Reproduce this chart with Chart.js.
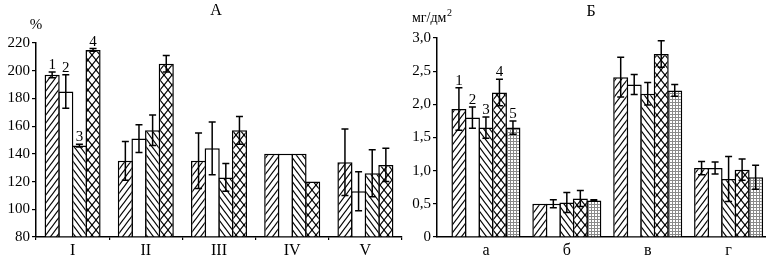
<!DOCTYPE html>
<html><head><meta charset="utf-8">
<script src="https://cdn.jsdelivr.net/npm/chart.js@4/dist/chart.umd.min.js"></script>
<style>
html,body{margin:0;padding:0;background:#fff;}
#wrap{position:relative;width:768px;height:260px;overflow:hidden;background:#fff;}
#cA{position:absolute;left:0;top:0;}
#cB{position:absolute;left:405px;top:0;}
</style></head><body>
<div id="wrap">
<canvas id="cA" width="410" height="260"></canvas>
<canvas id="cB" width="363" height="260"></canvas>
</div>
<script>
// ---- Panel А data (%) ----
const catsA = ['I', 'II', 'III', 'IV', 'V'];
const a1 = [197, 135, 135, 140, 134];
const a2 = [185, 151, 144, 140, 113];
const a3 = [146, 157, 123, 140, 126];
const a4 = [215, 205, 157, 120, 132];
const errA1 = [2, 14, 20, 0, 24];
const errA2 = [12, 10, 19, 0, 14];
const errA3 = [1, 11, 10, 0, 17];
const errA4 = [1, 6, 10, 0, 12];
const ticksA = [80, 100, 120, 140, 160, 180, 200, 220];
const tickLabelsA = ['80', '100', '120', '140', '160', '180', '200', '220'];

// ---- Panel Б data (мг/дм²) ----
const catsB = ['а', 'б', 'в', 'г'];
const b1 = [1.93, 0.50, 2.41, 1.04];
const b2 = [1.80, 0.50, 2.30, 1.04];
const b3 = [1.65, 0.52, 2.16, 0.875];
const b4 = [2.18, 0.58, 2.76, 1.015];
const b5 = [1.65, 0.55, 2.21, 0.90];
const errB1 = [0.32, 0, 0.30, 0.10];
const errB2 = [0.16, 0.06, 0.15, 0.09];
const errB3 = [0.16, 0.15, 0.17, 0.34];
const errB4 = [0.20, 0.12, 0.20, 0.16];
const errB5 = [0.10, 0.01, 0.09, 0.18];
const ticksB = [0, 0.5, 1.0, 1.5, 2.0, 2.5, 3.0];
const tickLabelsB = ['0', '0,5', '1,0', '1,5', '2,0', '2,5', '3,0'];
const seriesNames = ['1', '2', '3', '4', '5'];

const FONT = '"Liberation Serif", "Times New Roman", serif';

function makePattern(kind) {
  const dims = {fwd: [6, 8], back: [6, 8], cross: [8, 10], dots: [3, 3]}[kind];
  const w = dims[0], h = dims[1];
  const c = document.createElement('canvas'); c.width = w; c.height = h;
  const g = c.getContext('2d');
  g.fillStyle = '#fff'; g.fillRect(0, 0, w, h);
  g.strokeStyle = '#000'; g.lineWidth = 1.1;
  const L = (x1, y1, x2, y2) => { g.beginPath(); g.moveTo(x1, y1); g.lineTo(x2, y2); g.stroke(); };
  if (kind === 'fwd' || kind === 'cross') {
    L(-w, 2 * h, 2 * w, -h); L(0, 2 * h, 2 * w, 0); L(-w, h, w, -h);
  }
  if (kind === 'back' || kind === 'cross') {
    L(-w, -h, 2 * w, 2 * h); L(0, -h, 2 * w, h); L(-w, 0, w, 2 * h);
  }
  if (kind === 'dots') {
    g.fillStyle = '#8a8a8a'; g.fillRect(0, 0, w, 1); g.fillRect(0, 0, 1, h);
  }
  return g.createPattern(c, 'repeat');
}
const fills = [makePattern('fwd'), '#ffffff', makePattern('back'), makePattern('cross'), makePattern('dots')];

function decor(texts) {
  return {
    id: 'decor',
    afterDatasetsDraw(chart) {
      const ctx = chart.ctx, ys = chart.scales.y;
      ctx.save();
      chart.data.datasets.forEach((ds, i) => {
        const meta = chart.getDatasetMeta(i);
        meta.data.forEach((bar, j) => {
          const v = ds.vals[j], e = ds.err[j];
          const x = bar.x;
          if (e > 0) {
            const yt = ys.getPixelForValue(v + e), yb = ys.getPixelForValue(v - e);
            ctx.strokeStyle = '#000'; ctx.lineWidth = 1.5;
            ctx.beginPath();
            ctx.moveTo(x, yt); ctx.lineTo(x, yb);
            ctx.moveTo(x - 3.5, yt); ctx.lineTo(x + 3.5, yt);
            ctx.moveTo(x - 3.5, yb); ctx.lineTo(x + 3.5, yb);
            ctx.stroke();
          }
          if (j === 0 && ds.num) {
            ctx.fillStyle = '#000'; ctx.font = '15px ' + FONT;
            ctx.textAlign = 'center'; ctx.textBaseline = 'alphabetic';
            ctx.fillText(ds.num, x, ys.getPixelForValue(v + e) - 3);
          }
        });
      });
      ctx.fillStyle = '#000';
      texts.forEach(t => {
        ctx.font = t.font; ctx.textAlign = t.align || 'center'; ctx.textBaseline = 'alphabetic';
        ctx.fillText(t.s, t.x, t.y);
        if (t.sup) {
          const w = ctx.measureText(t.s).width;
          const x0 = t.align === 'left' ? t.x + w : t.x + w / 2;
          ctx.font = t.supFont; ctx.textAlign = 'left';
          ctx.fillText(t.sup, x0 + 0.5, t.y - 6);
        }
      });
      ctx.restore();
    }
  };
}

function yScale(ticks, labels, width) {
  return {
    type: 'linear', min: ticks[0], max: ticks[ticks.length - 1],
    afterBuildTicks: s => { s.ticks = ticks.map(v => ({value: v})); },
    afterFit: s => { s.width = width; },
    ticks: {color: '#000', font: {family: FONT, size: 15}, padding: 2, autoSkip: false,
            callback: (v, i) => labels[i]},
    grid: {drawOnChartArea: false, drawTicks: true, tickLength: 4, color: '#000', lineWidth: 1.2},
    border: {color: '#000', width: 1.5}
  };
}

function mkDs(vals, err, i, num, bp) {
  return {vals, err, num, backgroundColor: fills[i], borderColor: '#000', borderWidth: 1.5,
          borderSkipped: 'start', barPercentage: bp};
}

const dsA = [a1, a2, a3, a4].map((s, i) => Object.assign(
  mkDs(s, [errA1, errA2, errA3, errA4][i], i, seriesNames[i], 1.11),
  {data: s, base: ticksA[0], categoryPercentage: 0.745}));

new Chart(document.getElementById('cA'), {
  type: 'bar',
  data: {labels: catsA, datasets: dsA},
  options: {
    responsive: false, devicePixelRatio: 1, animation: false,
    layout: {padding: {top: 43, right: 8, left: 0, bottom: 0}},
    plugins: {legend: {display: false}, tooltip: {enabled: false}},
    scales: {
      x: {type: 'category', afterFit: s => { s.height = 23; },
          ticks: {color: '#000', font: {family: FONT, size: 16}, padding: 1, maxRotation: 0},
          grid: {drawOnChartArea: false, tickLength: 3, color: '#000', lineWidth: 1.2, offset: true},
          border: {color: '#000', width: 1.5}},
      y: yScale(ticksA, tickLabelsA, 36)
    }
  },
  plugins: [decor([
    {s: 'А', x: 216, y: 15, font: '16px ' + FONT},
    {s: '%', x: 36, y: 29, font: '15px ' + FONT}
  ])]
});

const dsB = [b1, b2, b3, b4, b5].map((s, i) => Object.assign(
  mkDs(s, [errB1, errB2, errB3, errB4, errB5][i], i, seriesNames[i], 1.11),
  {data: s.map((v, k) => ({x: k, y: v})), categoryPercentage: 0.835}));

new Chart(document.getElementById('cB'), {
  type: 'bar',
  data: {datasets: dsB},
  options: {
    responsive: false, devicePixelRatio: 1, animation: false,
    layout: {padding: {top: 38, right: 3, left: 0, bottom: 0}},
    plugins: {legend: {display: false}, tooltip: {enabled: false}},
    scales: {
      x: {type: 'linear', min: -0.605, max: 3.45, offset: false,
          afterBuildTicks: s => { s.ticks = catsB.map((c, k) => ({value: k})); },
          afterFit: s => { s.height = 23; },
          ticks: {color: '#000', font: {family: FONT, size: 16}, padding: 1, maxRotation: 0, autoSkip: false,
                  callback: v => catsB[v]},
          grid: {drawOnChartArea: false, tickLength: 3, color: 'rgba(0,0,0,0)', offset: false},
          border: {color: '#000', width: 1.5}},
      y: yScale(ticksB, tickLabelsB, 32)
    }
  },
  plugins: [decor([
    {s: 'Б', x: 186, y: 16, font: '16px ' + FONT},
    {s: 'мг/дм', x: 7, y: 22, font: '14px ' + FONT, align: 'left', sup: '2', supFont: '10px ' + FONT}
  ])]
});
</script>
</body></html>
